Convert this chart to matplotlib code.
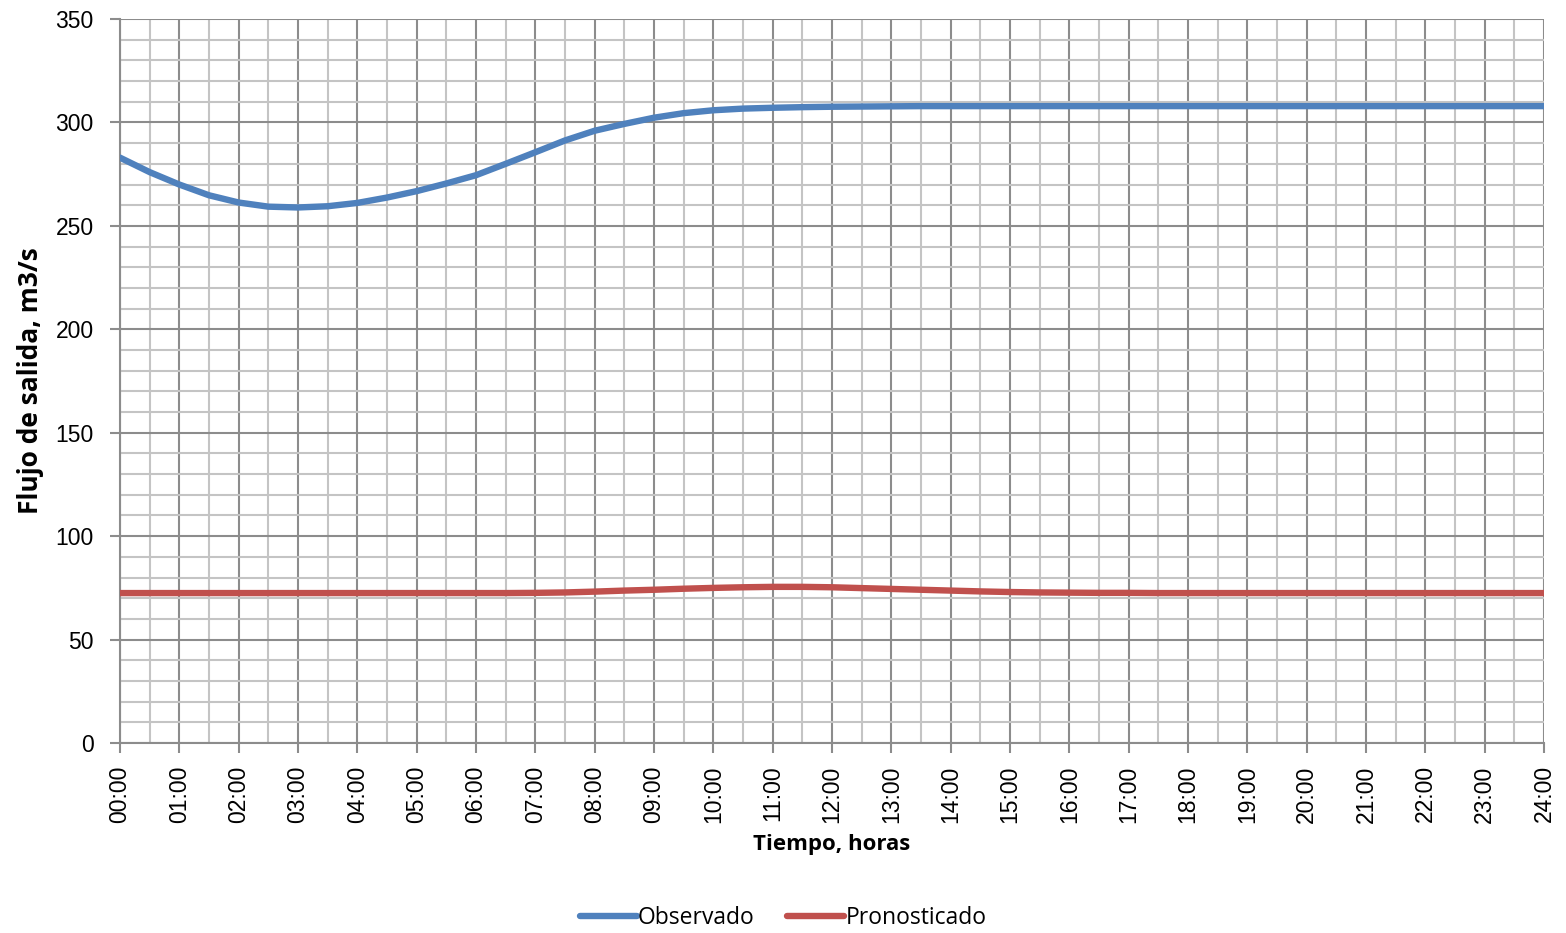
import matplotlib
matplotlib.use('Agg')
import matplotlib.pyplot as plt
from matplotlib.ticker import MultipleLocator

# horas (cada media hora)
HOURS = [0.0, 0.5, 1.0, 1.5, 2.0, 2.5, 3.0, 3.5, 4.0, 4.5, 5.0, 5.5, 6.0,
         6.5, 7.0, 7.5, 8.0, 8.5, 9.0, 9.5, 10.0, 10.5, 11.0, 11.5, 12.0,
         12.5, 13.0, 13.5, 14.0, 14.5, 15.0, 15.5, 16.0, 16.5, 17.0, 17.5,
         18.0, 18.5, 19.0, 19.5, 20.0, 20.5, 21.0, 21.5, 22.0, 22.5, 23.0,
         23.5, 24.0]

OBSERVADO = [283.0, 276.0, 270.0, 264.8, 261.3, 259.3, 258.9, 259.5, 261.1,
             263.7, 266.8, 270.5, 274.5, 280.0, 285.6, 291.3, 296.0, 299.3,
             302.3, 304.5, 305.9, 306.7, 307.1, 307.4, 307.6, 307.7, 307.8,
             307.9, 307.9, 307.9, 307.9, 307.9, 307.9, 307.9, 307.9, 307.9,
             307.9, 307.9, 307.9, 307.9, 307.9, 307.9, 307.9, 307.9, 307.9,
             307.9, 307.9, 307.9, 307.9]

PRONOSTICADO = [72.5, 72.5, 72.5, 72.5, 72.5, 72.5, 72.5, 72.5, 72.5, 72.5,
                72.5, 72.5, 72.5, 72.5, 72.6, 72.8, 73.2, 73.7, 74.1, 74.6,
                75.0, 75.3, 75.5, 75.5, 75.3, 74.9, 74.5, 74.1, 73.7, 73.3,
                73.0, 72.8, 72.7, 72.6, 72.6, 72.5, 72.5, 72.5, 72.5, 72.5,
                72.5, 72.5, 72.5, 72.5, 72.5, 72.5, 72.5, 72.5, 72.5]

TICK_LABELS = ['{:02d}:00'.format(h) for h in range(25)]

BLUE = '#4F81BD'
RED = '#C0504D'
MAJOR_GRID = '#8c8c8c'
MINOR_GRID = '#c4c4c4'


def main():
    fig = plt.figure(figsize=(15.66, 9.33), dpi=100)
    ax = fig.add_axes([0.0766, 0.2036, 0.9094, 0.776])

    ax.plot(HOURS, OBSERVADO, color=BLUE, lw=4.6, solid_capstyle='round',
            solid_joinstyle='round', label='Observado', zorder=3)
    ax.plot(HOURS, PRONOSTICADO, color=RED, lw=4.6, solid_capstyle='round',
            solid_joinstyle='round', label='Pronosticado', zorder=3)

    ax.set_xlim(0, 24)
    ax.set_ylim(0, 350)
    ax.set_xticks(range(25))
    ax.set_xticklabels(TICK_LABELS, rotation=90)
    ax.xaxis.set_minor_locator(MultipleLocator(0.5))
    ax.yaxis.set_major_locator(MultipleLocator(50))
    ax.yaxis.set_minor_locator(MultipleLocator(10))

    ax.grid(which='minor', color=MINOR_GRID, lw=1.5, zorder=0)
    ax.grid(which='major', color=MAJOR_GRID, lw=1.5, zorder=1)
    ax.set_axisbelow(True)

    ax.tick_params(which='major', length=7, width=1.5, color=MAJOR_GRID,
                   labelsize=16.5, labelfontfamily='Liberation Sans')
    ax.tick_params(axis='y', which='major', pad=12)
    ax.tick_params(axis='x', which='major', pad=9)
    ax.tick_params(which='minor', length=0)

    for side in ['top', 'right']:
        ax.spines[side].set_visible(False)
    for side in ['left', 'bottom']:
        ax.spines[side].set_color(MAJOR_GRID)
        ax.spines[side].set_linewidth(1.5)

    ax.set_xlabel('Tiempo, horas', family='Open Sans', fontweight='bold',
                  fontsize=16, labelpad=8)
    ax.set_ylabel('Flujo de salida, m3/s', family='Open Sans',
                  fontweight='bold', fontsize=19, labelpad=8)

    fig.legend(loc='center', bbox_to_anchor=(0.5, 0.016), ncol=2,
               frameon=False, handlelength=2.5, handletextpad=0.05,
               columnspacing=1.4, prop={'family': 'Open Sans', 'size': 16.5})

    fig.savefig('out.png', dpi=100)
    plt.close(fig)


if __name__ == '__main__':
    main()
